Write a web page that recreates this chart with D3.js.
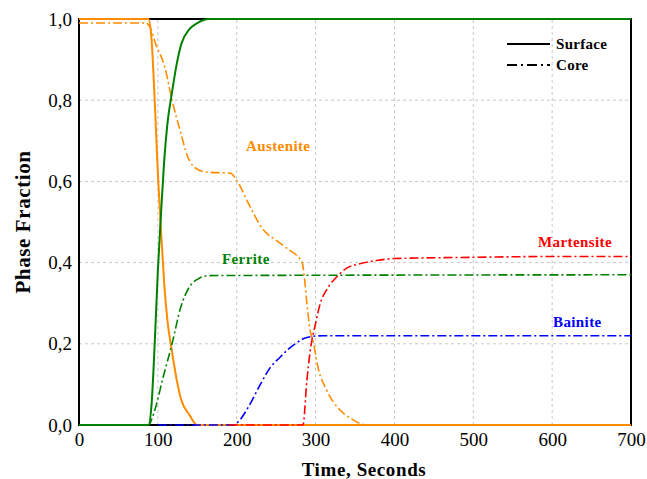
<!DOCTYPE html>
<html><head><meta charset="utf-8">
<script src="https://cdn.jsdelivr.net/npm/d3@7"></script>
<style>body{margin:0;background:#fff}</style>
</head><body>
<svg id="chart" width="647" height="479"></svg>
<script>
// ---- data ----
const xTicks = [0,100,200,300,400,500,600,700];
const yTicks = [0,0.2,0.4,0.6,0.8,1.0];
const yTickLabels = ["0,0","0,2","0,4","0,6","0,8","1,0"];

const surfAustT = [0,88,92,96,100,104,108,112,118,124,130,140,150,700];
const surfAustV = [1,1,0.95,0.80,0.62,0.48,0.35,0.26,0.18,0.11,0.06,0.025,0,0];

const surfFerrT = [0,88,92,96,100,104,108,112,118,124,130,140,150,165,700];
const surfFerrV = [0,0,0.05,0.20,0.38,0.52,0.65,0.74,0.82,0.89,0.94,0.975,0.99,1,1];

const coreAustT = [0,85,90,97,109,118,129,137,150,162,192,200,215,234,250,263,283,286,289,293,297,303,314,331,344,365,700];
const coreAustV = [0.99,0.99,0.98,0.94,0.88,0.80,0.72,0.665,0.63,0.623,0.62,0.603,0.545,0.48,0.455,0.436,0.40,0.36,0.30,0.234,0.205,0.143,0.086,0.037,0.017,0,0];

const coreFerrT = [0,88,95,107,118,129,140,153,165,700];
const coreFerrV = [0,0,0.03,0.12,0.20,0.29,0.34,0.362,0.368,0.37];

const coreBainT = [100,196,205,215,230,242,255,265,275,285,295,310,700];
const coreBainV = [0,0,0.015,0.045,0.10,0.14,0.167,0.186,0.201,0.213,0.218,0.22,0.22];

const coreMartT = [190,284,289,293,300,306,314,327,340,356,377,400,500,600,700];
const coreMartV = [0,0,0.11,0.18,0.25,0.30,0.333,0.365,0.387,0.397,0.405,0.41,0.413,0.415,0.415];

const labels = ["Austenite","Ferrite","Martensite","Bainite"];
const legendLabels = ["Surface","Core"];

// ---- layout ----
const W=647,H=479, m={l:79,r:16,t:19,b:54};
const svg=d3.select("#chart");
const x=d3.scaleLinear().domain([0,700]).range([m.l,W-m.r]);
const y=d3.scaleLinear().domain([0,1]).range([H-m.b,m.t]);
const font="'Liberation Serif','Times New Roman',serif";
const C={aus:"#ff8c00",fer:"#008000",mar:"#ff0000",bai:"#0000ff"};

// grid
svg.append("g").selectAll("line").data(xTicks.slice(1,-1)).join("line")
  .attr("x1",d=>x(d)).attr("x2",d=>x(d)).attr("y1",y(0)).attr("y2",y(1))
  .attr("stroke","#c8c8c8").attr("stroke-dasharray","3,3").attr("stroke-width",1);
svg.append("g").selectAll("line").data(yTicks.slice(1,-1)).join("line")
  .attr("x1",x(0)).attr("x2",x(700)).attr("y1",d=>y(d)).attr("y2",d=>y(d))
  .attr("stroke","#c8c8c8").attr("stroke-dasharray","3,3").attr("stroke-width",1);

// frame
svg.append("rect").attr("x",x(0)).attr("y",y(1)).attr("width",x(700)-x(0)).attr("height",y(0)-y(1))
  .attr("fill","none").attr("stroke","#000").attr("stroke-width",2);

// axes
const xAxis=svg.append("g").attr("transform",`translate(0,${y(0)})`)
  .call(d3.axisBottom(x).tickValues(xTicks).tickSize(0).tickPadding(8));
xAxis.select(".domain").remove();
xAxis.selectAll("text").attr("font-family",font).attr("font-size",19).attr("fill","#000");
const yAxis=svg.append("g").attr("transform",`translate(${x(0)},0)`)
  .call(d3.axisLeft(y).tickValues(yTicks).tickSize(0).tickPadding(7).tickFormat((d,i)=>yTickLabels[i]));
yAxis.select(".domain").remove();
yAxis.selectAll("text").attr("font-family",font).attr("font-size",19).attr("fill","#000");

const line=d3.line().x(d=>x(d[0])).y(d=>y(d[1])).curve(d3.curveMonotoneX);
const zip=(a,b)=>a.map((t,i)=>[t,b[i]]);
const DD="9,3,2,3";
function draw(t,v,color,dash,w){
  svg.append("path").datum(zip(t,v)).attr("d",line).attr("fill","none")
    .attr("stroke",color).attr("stroke-width",w).attr("stroke-dasharray",dash||null);
}
draw(surfAustT,surfAustV,C.aus,null,2);
draw(coreFerrT,coreFerrV,C.fer,DD,1.6);
draw(coreAustT,coreAustV,C.aus,DD,1.6);
draw(coreBainT,coreBainV,C.bai,DD,1.6);
draw(coreMartT,coreMartV,C.mar,DD,1.6);
draw(surfFerrT,surfFerrV,C.fer,null,2);

// series labels
const lab=[[labels[0],246,151,C.aus],[labels[1],222,264,C.fer],[labels[2],538,247,C.mar],[labels[3],553,327,C.bai]];
svg.append("g").selectAll("text").data(lab).join("text")
  .attr("x",d=>d[1]).attr("y",d=>d[2]).text(d=>d[0]).attr("fill",d=>d[3])
  .attr("font-family",font).attr("font-weight","bold").attr("font-size",15).attr("letter-spacing",0.4);

// legend
const lg=svg.append("g");
lg.append("line").attr("x1",507).attr("x2",550).attr("y1",44).attr("y2",44).attr("stroke","#000").attr("stroke-width",2);
lg.append("line").attr("x1",507).attr("x2",550).attr("y1",65).attr("y2",65).attr("stroke","#000").attr("stroke-width",2).attr("stroke-dasharray","10,4,2,4");
lg.selectAll("text").data(legendLabels).join("text").attr("x",556).attr("y",(d,i)=>49+i*21).text(d=>d)
  .attr("font-family",font).attr("font-weight","bold").attr("font-size",15).attr("letter-spacing",0.3);

// axis titles
svg.append("text").attr("x",364).attr("y",476).attr("text-anchor","middle")
  .attr("font-family",font).attr("font-weight","bold").attr("font-size",19).attr("letter-spacing",0.6).text("Time, Seconds");
svg.append("text").attr("transform",`translate(30,${(y(0)+y(1))/2}) rotate(-90)`).attr("text-anchor","middle")
  .attr("font-family",font).attr("font-weight","bold").attr("font-size",21).attr("letter-spacing",0.6).text("Phase Fraction");
</script>
</body></html>
